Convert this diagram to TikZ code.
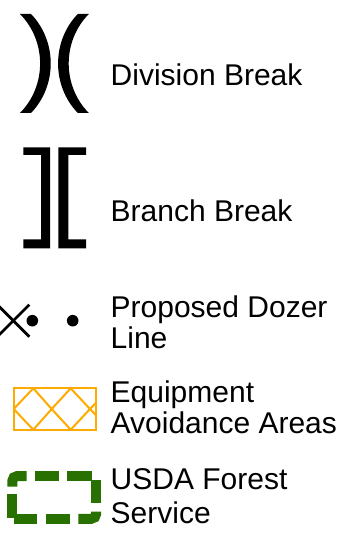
\documentclass[tikz,border=0pt]{standalone}
\usepackage{fontspec}
\setmainfont{Liberation Sans}
\definecolor{equiporange}{RGB}{255,170,0}
\definecolor{usdagreen}{RGB}{40,112,0}
\begin{document}
\begin{tikzpicture}[x=1pt,y=-1pt,
  lbl/.style={anchor=base west,inner sep=0pt,font=\fontsize{30}{31}\selectfont},
  symfill/.style={fill=black,draw=none},
  dozerx/.style={draw=black,line width=2.8pt},
  avoid/.style={draw=equiporange,line width=2pt,line join=miter},
  usdadash/.style={draw=usdagreen,line width=10pt,line cap=butt}]
\useasboundingbox (0,0) rectangle (345,540);

% Division break
\path[symfill] (20,14) .. controls (46.8,41.2) and (46.8,85.8) .. (20,113)
  -- (31,113) .. controls (57.3,85.8) and (57.3,41.2) .. (31,14) -- cycle;
\path[symfill] (88.8,14) .. controls (62,41.2) and (62,85.8) .. (88.8,113)
  -- (77.8,113) .. controls (51.5,85.8) and (51.5,41.2) .. (77.8,14) -- cycle;

% Branch break
\path[symfill] (23.3,147.3) -- (50,147.3) -- (50,248.3) -- (23.3,248.3)
  -- (23.3,239.3) -- (41,239.3) -- (41,155) -- (23.3,155) -- cycle;
\path[symfill] (86,147.3) -- (58.3,147.3) -- (58.3,248.3) -- (86,248.3)
  -- (86,239.3) -- (68.3,239.3) -- (68.3,155) -- (86,155) -- cycle;

% Proposed dozer line
\draw[dozerx] (-2.7,304.7) -- (29.3,336.7);
\draw[dozerx] (-2.7,336.7) -- (29.3,304.7);
\path[symfill] (32.3,320.7) circle (5.8);
\path[symfill] (72.7,320.7) circle (5.8);

% Equipment avoidance areas
\draw[avoid] (13.7,388.3) rectangle (96,429.7);
\draw[avoid] (13.7,409) -- (33.3,388.3) -- (51.7,409) -- (70.7,388.3) -- (90,409) -- (96,402.7);
\draw[avoid] (13.7,409) -- (33.3,429.7) -- (51.7,409) -- (70.7,429.7) -- (90,409) -- (96,415.3);

% USDA Forest Service
\draw[usdadash,rounded corners=5pt] (12.3,486.7) |- (26.7,476);
\draw[usdadash] (35,476) -- (59.3,476);
\draw[usdadash] (67.3,476) -- (91.7,476);
\draw[usdadash] (96.2,480) -- (96.2,503.3);
\draw[usdadash,rounded corners=5pt] (96.2,511.7) |- (78.3,518.8);
\draw[usdadash] (46,518.8) -- (70,518.8);
\draw[usdadash] (14,518.8) -- (37.3,518.8);
\draw[usdadash] (12.3,494.3) -- (12.3,518.3);

% Labels
\node[lbl] (div) at (110.5,86) {Division Break};
\node[lbl] (branch) at (110.5,221) {Branch Break};
\node[lbl] (doz1) at (110.5,317) {Proposed Dozer};
\node[lbl] (doz2) at (110.5,348) {Line};
\node[lbl] (eq1) at (110.5,402) {Equipment};
\node[lbl] (eq2) at (110.5,433) {Avoidance Areas};
\node[lbl] (us1) at (110.5,489) {USDA Forest};
\node[lbl] (us2) at (110.5,523.5) {Service};
\end{tikzpicture}
\end{document}
